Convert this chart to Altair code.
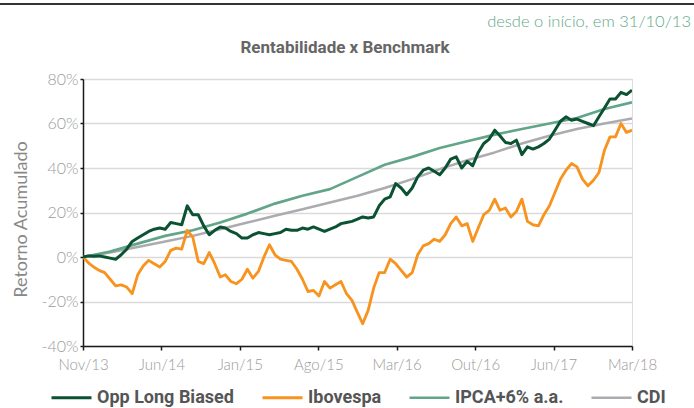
import altair as alt
import pandas as pd

# Período: desde o início do fundo (31/10/13) até meados de março/18
inicio = pd.Timestamp("2013-10-31")
fim = pd.Timestamp("2018-03-15")
total_dias = (fim - inicio).days

rotulos_x = ["Nov/13", "Jun/14", "Jan/15", "Ago/15", "Mar/16", "Out/16", "Jun/17", "Mar/18"]
ticks_y = [-40, -20, 0, 20, 40, 60, 80]

series = ["Opp Long Biased", "Ibovespa", "IPCA+6% a.a.", "CDI"]
cores = ["#0b5232", "#f7931e", "#62a588", "#acabb0"]
espessuras = [3, 2.5, 2.5, 2.5]

# Retorno acumulado (%) — amostras igualmente espaçadas no período
opp = [
    0, 0.5, 0.3, 0.5, 0, -0.5, -1, 1, 3.5, 7,
    8.5, 10, 11.5, 12.5, 13, 12.5, 15.5, 15, 14.5, 23,
    19, 19, 14, 10, 12, 13.5, 13, 11.5, 10.5, 8.5,
    8.5, 10, 11, 10.5, 10, 10.5, 11, 12.5, 12, 12,
    13, 12.5, 13.5, 12.5, 11.5, 12.5, 13.5, 15, 15.5, 16,
    17, 18, 17.5, 18, 23, 26, 27, 33, 31, 28,
    31, 36, 39, 40, 38.5, 37, 40, 44, 45, 40,
    43, 41, 47, 51, 53, 57, 54.5, 51.5, 51, 52.5,
    46, 49.5, 48.5, 49.5, 51, 53, 57, 61, 63, 61.5,
    62, 61, 60, 59, 63, 67, 71, 71, 74, 73,
    75,
]
ibov = [
    0, -2.5, -4.5, -6, -7, -10, -13, -12.5, -13.5, -16.5,
    -8, -4, -1.5, -3, -4.5, -2, 3, 4, 3.5, 12,
    9, -2, -3, 2, -3, -9, -8, -11, -12, -10,
    -5.5, -9.5, -6.5, 0, 5.5, 1, -1, -1.5, -2, -5.5,
    -10, -15.5, -15, -17.5, -11, -14, -12.5, -11, -16.5, -19.5,
    -25, -30, -24, -14, -7, -7, -1, -3, -6, -9,
    -7, 1, 5, 6, 8, 7, 10, 15, 18, 14,
    15, 7, 13, 19, 21, 26, 21, 22, 18, 20.5,
    26, 16, 14.5, 14, 19, 23, 29, 35, 39, 42,
    40.5, 35, 32, 34.5, 38, 48, 54, 54, 60, 56,
    57,
]
ipca = [
    0, 2.5, 6, 9.5, 12, 15.5, 19.5, 24, 27.5, 30.5,
    36, 41.5, 45, 49, 52, 55, 57.5, 60, 62.5, 66.5,
    69.5,
]
cdi = [
    0, 2, 4.5, 7, 9.5, 12.5, 15.5, 18.5, 21.5, 24.5,
    27.5, 31, 35, 39.5, 43.5, 47, 51, 54.5, 57.5, 60,
    62.3,
]


def quadro(nome, valores):
    datas = pd.date_range(inicio, fim, periods=len(valores))
    return pd.DataFrame({"dia": (datas - inicio).days, "retorno": valores, "serie": nome})


# Ordem de desenho: benchmarks suaves por baixo, fundo por cima
dados = pd.concat(
    [quadro("CDI", cdi), quadro("IPCA+6% a.a.", ipca), quadro("Ibovespa", ibov), quadro("Opp Long Biased", opp)],
    ignore_index=True,
)

passo = total_dias / 7
valores_x = [round(k * passo) for k in range(8)]
expr_x = "[" + ",".join(f"'{r}'" for r in rotulos_x) + f"][round(datum.value / {passo})]"

fonte_destaque = "Roboto"

linhas = alt.Chart(dados).mark_line(strokeJoin="round", clip=True).encode(
    x=alt.X(
        "dia:Q",
        scale=alt.Scale(domain=[0, total_dias], nice=False, zero=False),
        axis=alt.Axis(
            values=valores_x, labelExpr=expr_x, title=None, grid=False,
            labelFont="Lato", labelFontSize=15, labelColor="#9a9a9a", labelFontWeight=300,
            labelPadding=7, tickSize=4, tickColor="#1a1a1a", tickWidth=1.5,
            domainColor="#1a1a1a", domainWidth=1.5, labelFlush=False,
        ),
    ),
    y=alt.Y(
        "retorno:Q",
        scale=alt.Scale(domain=[-40, 80], nice=False),
        axis=alt.Axis(
            values=ticks_y, labelExpr="datum.value + '%'", title="Retorno Acumulado",
            grid=True, gridColor="#dadada", gridWidth=1.5,
            labelFont="Lato", labelFontSize=16, labelColor="#9a9a9a", labelFontWeight=300,
            labelPadding=2, tickSize=3, tickColor="#1a1a1a", tickWidth=1.5,
            domainColor="#1a1a1a", domainWidth=1.5,
            titleFont="Lato", titleFontSize=18, titleColor="#888888", titleFontWeight="normal",
            titleX=-62, titleY=140, titleAngle=-90, titleAlign="center", titleBaseline="middle",
        ),
    ),
    color=alt.Color(
        "serie:N",
        scale=alt.Scale(domain=series, range=cores),
        legend=alt.Legend(
            title=None, orient="none", legendX=-33, legendY=297, direction="horizontal",
            symbolType="stroke", symbolSize=1600, symbolStrokeWidth=5,
            labelFont=fonte_destaque, labelFontSize=18, labelFontWeight="bold",
            labelColor="#555555", labelOffset=4, columnPadding=22, padding=0,
        ),
    ),
    strokeWidth=alt.StrokeWidth(
        "serie:N", scale=alt.Scale(domain=series, range=espessuras), legend=None
    ),
    detail="serie:N",
)

filete = alt.Chart(alt.Data(values=[{}])).mark_rule(color="#333333", strokeWidth=2).encode(
    x=alt.value(-83), x2=alt.value(611), y=alt.value(-75)
)
subtitulo = alt.Chart(alt.Data(values=[{}])).mark_text(
    text="desde o início, em 31/10/13", align="right", baseline="middle",
    font="Lato", fontSize=16.5, fontWeight=300, color="#5fa889",
).encode(x=alt.value(608), y=alt.value(-57))
titulo = alt.Chart(alt.Data(values=[{}])).mark_text(
    text="Rentabilidade x Benchmark", align="center", baseline="middle",
    font=fonte_destaque, fontSize=17, fontWeight="bold", color="#666666",
).encode(x=alt.value(262), y=alt.value(-31))

chart = alt.layer(filete, subtitulo, titulo, linhas).properties(
    width=549,
    height=267,
    autosize=alt.AutoSizeParams(type="none"),
    padding={"left": 83, "top": 79, "right": 62, "bottom": 62},
).configure_view(stroke=None).configure(background="white")

chart.save("out.html", embed_options={"renderer": "svg", "actions": False})
